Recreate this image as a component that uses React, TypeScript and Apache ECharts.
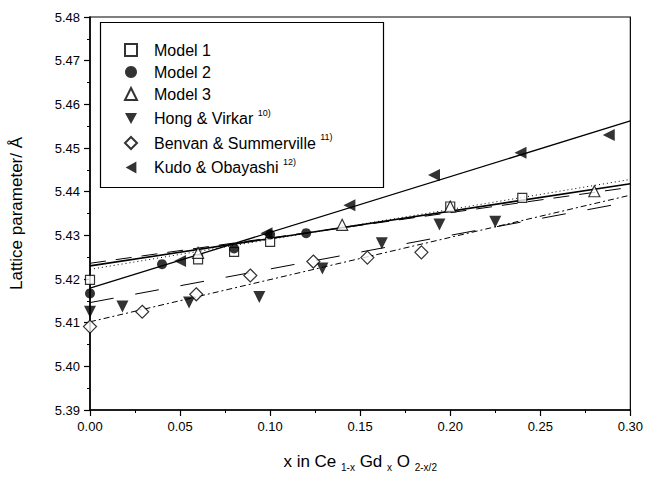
import React, { useEffect, useRef } from "react";
import * as echarts from "echarts";

// Measured lattice parameters, [x, a / Å]
const model1: number[][] = [
  [0.0, 5.4198], [0.06, 5.4245], [0.08, 5.4262], [0.1, 5.4285], [0.2, 5.4366], [0.24, 5.4386],
];
const model2: number[][] = [
  [0.0, 5.4167], [0.04, 5.4234], [0.08, 5.427], [0.1, 5.4302], [0.12, 5.4305],
];
const model3: number[][] = [
  [0.06, 5.426], [0.14, 5.4324], [0.2, 5.4366], [0.28, 5.4401],
];
const hongVirkar: number[][] = [
  [0.0, 5.4125], [0.018, 5.4137], [0.055, 5.4146], [0.094, 5.4159], [0.129, 5.4224],
  [0.162, 5.4282], [0.194, 5.4325], [0.225, 5.4331],
];
const benvanSummerville: number[][] = [
  [0.0, 5.4091], [0.029, 5.4125], [0.059, 5.4165], [0.089, 5.4208], [0.124, 5.424],
  [0.154, 5.4249], [0.184, 5.4261],
];
const kudoObayashi: number[][] = [
  [0.05, 5.4241], [0.098, 5.4305], [0.144, 5.4369], [0.191, 5.4438], [0.239, 5.4489], [0.288, 5.453],
];

// Linear fits, end points at x = 0 and x = 0.30
const fitModel1: number[][] = [[0, 5.4222], [0.3, 5.4428]];
const fitModel2: number[][] = [[0, 5.4230], [0.3, 5.4418]];
const fitModel3: number[][] = [[0, 5.4236], [0.3, 5.4410]];
const fitHong: number[][] = [[0, 5.4146], [0.3, 5.4377]];
const fitBenvan: number[][] = [[0, 5.4102], [0.3, 5.4392]];
const fitKudo: number[][] = [[0, 5.4179], [0.3, 5.4562]];

const legendNames = [
  "Model 1",
  "Model 2",
  "Model 3",
  "Hong & Virkar",
  "Benvan & Summerville",
  "Kudo & Obayashi",
];
const legendRefs: Record<string, string> = {
  "Hong & Virkar": "10)",
  "Benvan & Summerville": "11)",
  "Kudo & Obayashi": "12)",
};

// Triangles pointing down / left for the legend icons
const DOWN_TRIANGLE = "path://M0,0L10,0L5,9Z";
const LEFT_TRIANGLE = "path://M9,0L9,10L0,5Z";

const FONT = "Arial, 'Liberation Sans', Helvetica, sans-serif";

export default function App() {
  const ref = useRef<HTMLDivElement>(null);

  useEffect(() => {
    if (!ref.current) return;
    const chart = echarts.init(ref.current, null, { renderer: "svg" });

    const open = { color: "#fff", borderColor: "#000", borderWidth: 1.2 };
    const filled = { color: "#000" };

    const scatter = (name: string, data: number[][], symbol: string, style: any, size = 10, rotate = 0) => ({
      name,
      type: "scatter",
      data,
      symbol,
      symbolSize: size,
      symbolRotate: rotate,
      itemStyle: style,
      z: 5,
    });

    const fit = (data: number[][], type: any, width = 1) => ({
      type: "line",
      data,
      symbol: "none",
      silent: true,
      lineStyle: { color: "#000", width, type },
      z: 3,
    });

    const legendData = legendNames.map((name) => {
      if (name === "Hong & Virkar") return { name, icon: DOWN_TRIANGLE };
      if (name === "Kudo & Obayashi") return { name, icon: LEFT_TRIANGLE };
      return { name };
    });

    chart.setOption({
      animation: false,
      backgroundColor: "#fff",
      textStyle: { fontFamily: FONT },
      grid: {
        left: 88,
        right: 15,
        top: 17,
        bottom: 71,
        show: true,
        borderColor: "#000",
        borderWidth: 1.2,
      },
      xAxis: {
        type: "value",
        min: 0,
        max: 0.3,
        interval: 0.05,
        name: "x in Ce {sub|1-x} Gd {sub|x} O {sub|2-x/2}",
        nameLocation: "middle",
        nameGap: 40,
        nameTextStyle: {
          fontSize: 17,
          color: "#000",
          fontFamily: FONT,
          rich: {
            sub: { fontSize: 10, color: "#000", fontFamily: FONT, padding: [12, 0, 0, 0] },
          },
        },
        axisLine: { lineStyle: { color: "#000", width: 1.5 } },
        axisTick: { length: 6, lineStyle: { color: "#000", width: 1.2 } },
        minorTick: { show: true, splitNumber: 2, length: 3, lineStyle: { color: "#000", width: 1 } },
        splitLine: { show: false },
        axisLabel: {
          color: "#000",
          fontSize: 13,
          margin: 10,
          fontFamily: FONT,
          formatter: (v: number) => v.toFixed(2),
        },
      },
      yAxis: {
        type: "value",
        min: 5.39,
        max: 5.48,
        interval: 0.01,
        name: "Lattice parameter/ Å",
        nameLocation: "middle",
        nameGap: 65,
        nameTextStyle: { fontSize: 17, color: "#000", fontFamily: FONT },
        axisLine: { lineStyle: { color: "#000", width: 1.5 } },
        axisTick: { length: 6, lineStyle: { color: "#000", width: 1.2 } },
        minorTick: { show: true, splitNumber: 2, length: 3, lineStyle: { color: "#000", width: 1 } },
        splitLine: { show: false },
        axisLabel: {
          color: "#000",
          fontSize: 13,
          margin: 10,
          fontFamily: FONT,
          formatter: (v: number) => v.toFixed(2),
        },
      },
      legend: {
        data: legendData,
        orient: "vertical",
        left: 119,
        top: 37,
        itemGap: 6,
        itemWidth: 12,
        itemHeight: 12,
        selectedMode: false,
        formatter: (name: string) =>
          legendRefs[name] ? `${name} {sup|${legendRefs[name]}}` : name,
        textStyle: {
          fontSize: 16,
          color: "#000",
          fontFamily: FONT,
          padding: [0, 0, 0, 12],
          rich: {
            sup: { fontSize: 9, color: "#000", fontFamily: FONT, padding: [0, 0, 12, 0] },
          },
        },
      },
      graphic: [
        {
          type: "rect",
          shape: { x: 100.5, y: 22.5, width: 283, height: 165 },
          style: { fill: "none", stroke: "#000", lineWidth: 1.2 },
          z: 10,
        },
      ],
      series: [
        fit(fitModel1, [1, 3]),
        fit(fitModel2, "solid", 1.6),
        fit(fitModel3, [16, 10]),
        fit(fitHong, [24, 22]),
        fit(fitBenvan, [6, 3, 2, 3]),
        fit(fitKudo, "solid", 1.3),
        scatter("Model 1", model1, "rect", open, 9),
        scatter("Model 2", model2, "circle", filled, 10),
        scatter("Model 3", model3, "triangle", open, 11),
        scatter("Hong & Virkar", hongVirkar, "triangle", filled, 12, 180),
        scatter("Benvan & Summerville", benvanSummerville, "diamond", open, 13),
        scatter("Kudo & Obayashi", kudoObayashi, "triangle", filled, 12, 90),
      ],
    });

    return () => chart.dispose();
  }, []);

  return (
    <div
      ref={ref}
      style={{ position: "fixed", left: 0, top: 0, width: 646, height: 481, background: "#fff" }}
    />
  );
}
